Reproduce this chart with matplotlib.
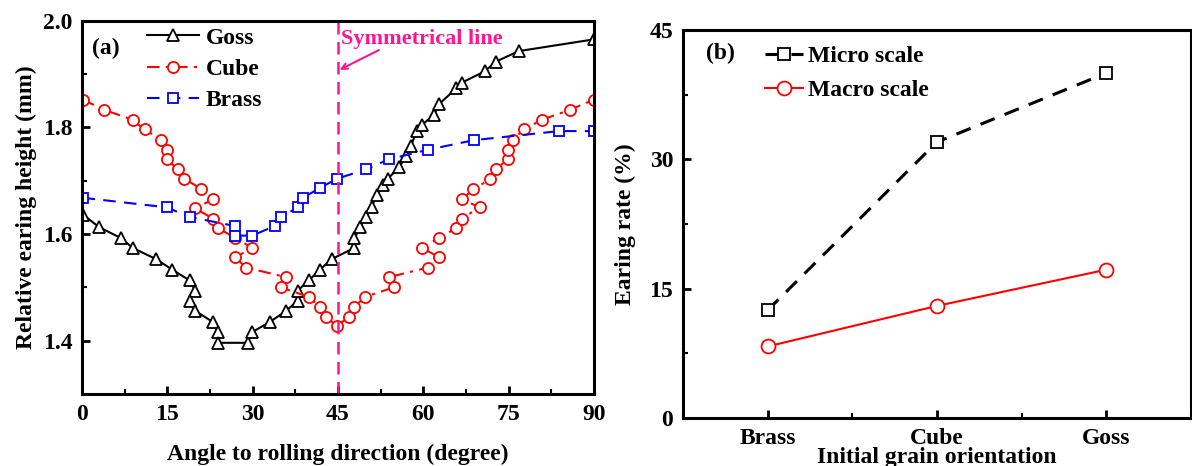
import numpy as np
import matplotlib
matplotlib.use("Agg")
import matplotlib.pyplot as plt
from matplotlib.ticker import MultipleLocator

plt.rcParams['font.family'] = ['Liberation Serif', 'DejaVu Serif']
plt.rcParams['font.weight'] = 'bold'

# (a) 耳高さ vs 角度
goss_x = [0.2, 3.0, 6.9, 8.9, 13.0, 15.9, 18.9, 19.9, 18.9, 19.9, 23.0, 23.9, 23.9,
          29.1, 29.9, 33.0, 35.9, 37.9, 37.9, 39.9, 41.8, 43.9, 47.9, 47.9, 48.9,
          49.9, 50.9, 51.9, 52.9, 53.8, 55.8, 57.0, 57.8, 58.9, 59.8, 61.9, 62.8,
          65.8, 66.8, 70.8, 72.7, 76.8, 90.0]
goss_y = [1.636, 1.613, 1.592, 1.574, 1.553, 1.533, 1.513, 1.494, 1.475, 1.456, 1.435,
          1.416, 1.396, 1.396, 1.416, 1.435, 1.456, 1.475, 1.494, 1.513, 1.533, 1.553,
          1.574, 1.592, 1.613, 1.632, 1.651, 1.674, 1.692, 1.704, 1.726, 1.746, 1.765,
          1.794, 1.805, 1.824, 1.844, 1.873, 1.884, 1.905, 1.923, 1.943, 1.965]

cube_x = [0.1, 3.9, 8.9, 11.0, 13.9, 14.9, 14.9, 16.9, 18.0, 21.0, 23.0, 19.9, 23.0,
          23.9, 26.9, 29.9, 26.9, 28.9, 35.9, 34.9, 39.9, 41.8, 42.9, 44.8, 46.9,
          47.9, 49.8, 54.8, 53.9, 60.8, 62.8, 59.8, 62.8, 65.8, 66.8, 69.9, 66.8,
          68.8, 71.8, 72.7, 74.8, 74.8, 75.7, 77.7, 80.8, 85.8, 90.0]
cube_y = [1.852, 1.833, 1.814, 1.796, 1.777, 1.758, 1.740, 1.721, 1.704, 1.684, 1.665,
          1.648, 1.629, 1.611, 1.593, 1.574, 1.556, 1.537, 1.519, 1.500, 1.482, 1.463,
          1.445, 1.427, 1.445, 1.464, 1.482, 1.500, 1.519, 1.537, 1.556, 1.574, 1.593,
          1.611, 1.629, 1.650, 1.665, 1.684, 1.703, 1.721, 1.740, 1.758, 1.777, 1.796,
          1.814, 1.833, 1.852]

brass_x = [0.1, 14.9, 18.9, 26.9, 26.9, 29.9, 33.9, 34.9, 38.0, 38.9, 41.9, 44.9,
           49.9, 53.9, 60.8, 68.9, 83.9, 90.0]
brass_y = [1.668, 1.650, 1.632, 1.615, 1.597, 1.597, 1.615, 1.632, 1.650, 1.668, 1.687,
           1.704, 1.721, 1.740, 1.758, 1.776, 1.793, 1.793]

# (b) 耳率
orientations = ['Brass', 'Cube', 'Goss']
micro_scale = [12.5, 32.0, 40.0]
macro_scale = [8.3, 13.0, 17.2]

pink = '#FF1493'

fig = plt.figure(figsize=(11.92, 4.66), dpi=100)
ax1 = fig.add_axes([0.0688, 0.1545, 0.4295, 0.8011])
ax2 = fig.add_axes([0.573, 0.103, 0.426, 0.8326])

# ---- (a)
ax1.plot(goss_x, goss_y, color='black', lw=1.5, marker='^', ms=9,
         mfc='white', mec='black', mew=1.3, label='Goss')
ax1.plot(cube_x, cube_y, color='red', lw=1.5, ls=(0, (6, 3, 1.5, 3)), marker='o', ms=8,
         mfc='white', mec='red', mew=1.3, label='Cube')
ax1.plot(brass_x, brass_y, color='blue', lw=1.5, ls=(0, (6, 4)), marker='s', ms=7,
         mfc='white', mec='blue', mew=1.3, label='Brass')
ax1.axvline(45, color=pink, lw=1.8, ls=(0, (5, 3)))
ax1.text(45.5, 1.966, 'Symmetrical line', color=pink, fontsize=16, fontweight='bold',
         va='center', ha='left')
ax1.annotate('', xy=(45.3, 1.908), xytext=(52.2, 1.945),
             arrowprops=dict(arrowstyle='->', color=pink, lw=1.5,
                             shrinkA=0, shrinkB=0))

ax1.set_xlim(0, 90)
ax1.set_ylim(1.3, 2.0)
ax1.xaxis.set_major_locator(MultipleLocator(15))
ax1.xaxis.set_minor_locator(MultipleLocator(7.5))
ax1.set_yticks([1.4, 1.6, 1.8, 2.0])
ax1.yaxis.set_minor_locator(MultipleLocator(0.1))
ax1.set_xlabel('Angle to rolling direction (degree)', fontsize=17, fontweight='bold',
               labelpad=14)
ax1.set_ylabel('Relative earing height (mm)', fontsize=17, fontweight='bold', labelpad=4)
ax1.text(0.02, 0.91, '(a)', transform=ax1.transAxes, fontsize=17, fontweight='bold')
ax1.legend(loc='upper left', bbox_to_anchor=(0.085, 1.04), frameon=False,
           handlelength=2.2, handletextpad=0.3, labelspacing=0.42,
           prop={'weight': 'bold', 'size': 17})

# ---- (b)
xpos = np.arange(1, len(orientations) + 1)
ax2.plot(xpos, micro_scale, color='black', lw=2.2, ls=(0, (5, 3.5)), marker='s', ms=8,
         mfc='white', mec='black', mew=1.3, label='Micro scale')
ax2.plot(xpos, macro_scale, color='red', lw=1.5, marker='o', ms=10,
         mfc='white', mec='red', mew=1.3, label='Macro scale')
ax2.set_xlim(0.5, 3.5)
ax2.set_ylim(0, 45)
ax2.set_xticks(xpos)
ax2.set_xticklabels(orientations)
ax2.xaxis.set_minor_locator(MultipleLocator(0.5))
ax2.yaxis.set_major_locator(MultipleLocator(15))
ax2.yaxis.set_minor_locator(MultipleLocator(7.5))
ax2.set_xlabel('Initial grain orientation', fontsize=17, fontweight='bold', labelpad=-1)
ax2.set_ylabel('Earing rate (%)', fontsize=17, fontweight='bold', labelpad=10)
ax2.text(0.045, 0.925, '(b)', transform=ax2.transAxes, fontsize=17, fontweight='bold')
ax2.legend(loc='upper left', bbox_to_anchor=(0.12, 1.015), frameon=False,
           handlelength=1.6, handletextpad=0.2, labelspacing=0.55,
           prop={'weight': 'bold', 'size': 17})

for ax in (ax1, ax2):
    for sp in ax.spines.values():
        sp.set_linewidth(2.2)
    ax.tick_params(which='major', direction='in', length=6, width=2, labelsize=17,
                   pad=7, top=False, right=False)
    ax.tick_params(which='minor', direction='in', length=3.5, width=1.5,
                   top=False, right=False)
    for lab in ax.get_xticklabels() + ax.get_yticklabels():
        lab.set_fontweight('bold')

fig.savefig('out.png', dpi=100)
